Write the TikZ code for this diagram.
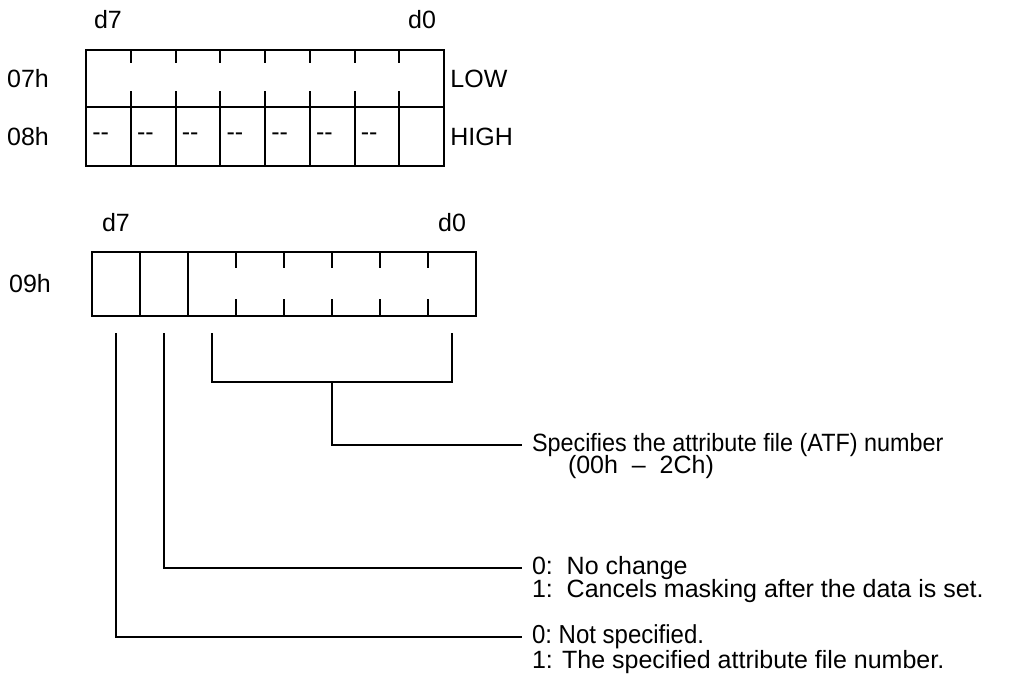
\documentclass[tikz,border=0pt]{standalone}
\usepackage{fontspec}
\setmainfont{Liberation Sans}
\usetikzlibrary{positioning,calc}
\tikzset{
  regline/.style={line width=1pt},
  lbl/.style={inner sep=0pt},
  desc/.style={anchor=west,inner sep=0pt,outer sep=5pt},
}

\begin{document}
\begin{tikzpicture}[x=0.5pt,y=-0.5pt,font=\fontsize{12.5}{13}\selectfont]
  \useasboundingbox (0,0) rectangle (1016,686);
  \draw[regline] (86,50) rectangle (444,166) (86,107) -- (444,107);
  \foreach \i in {1,...,7}{
    \draw[regline] ({86+44.75*\i},50) -- ++(0,13)
      ({86+44.75*\i},91) -- ({86+44.75*\i},166);
    \node[lbl,anchor=west] (dash\i) at ({86+44.75*(\i-1)+6},137) {-{}-};
  }
  \node[lbl] (d7a) at (108,20) {d7};
  \node[lbl] (d0a) at (422,20) {d0};
  \node[lbl] (r07) at (28,79) {07h};
  \node[lbl] (r08) at (28,137) {08h};
  \node[lbl,anchor=west] (low) at (450,79) {LOW};
  \node[lbl,anchor=west] (high) at (450,137) {HIGH};

  \draw[regline] (92,252) rectangle (476,316)
    (140,252) -- (140,316) (188,252) -- (188,316);
  \foreach \x in {236,284,...,428}
    \draw[regline] (\x,252) -- ++(0,16) (\x,299) -- (\x,316);
  \node[lbl] (d7b) at (116,223) {d7};
  \node[lbl] (d0b) at (452,223) {d0};
  \node[lbl] (r09) at (30,284) {09h};

  \coordinate (b7) at (116,333);
  \coordinate (b6) at (164,333);
  \coordinate (b5) at (212,333);
  \coordinate (b0) at (452,333);
  \coordinate (tap) at (332,382);

  \node[desc] (atf) at (522,445) {\scalebox{0.935}[1]{Specifies the attribute file (ATF) number}};
  \node[desc] (atfrange) at (558,467) {(00h\ \ –\ \ 2Ch)};
  \node[desc] (nochg) at (522,568) {0:\ \ No change};
  \node[desc] (cancel) at (522,591) {1:\ \ Cancels masking after the data is set.};
  \node[desc] (notspec) at (522,637) {\scalebox{0.96}[1.04]{0:\ Not specified.}};
  \node[desc] (spec) at (522,662) {1: The specified attribute file number.};

  \draw[regline] (b5) |- (tap) -| (b0);
  \draw[regline] (tap) |- (atf.west);
  \draw[regline] (b6) |- (nochg.west);
  \draw[regline] (b7) |- (notspec.west);
\end{tikzpicture}
\end{document}
